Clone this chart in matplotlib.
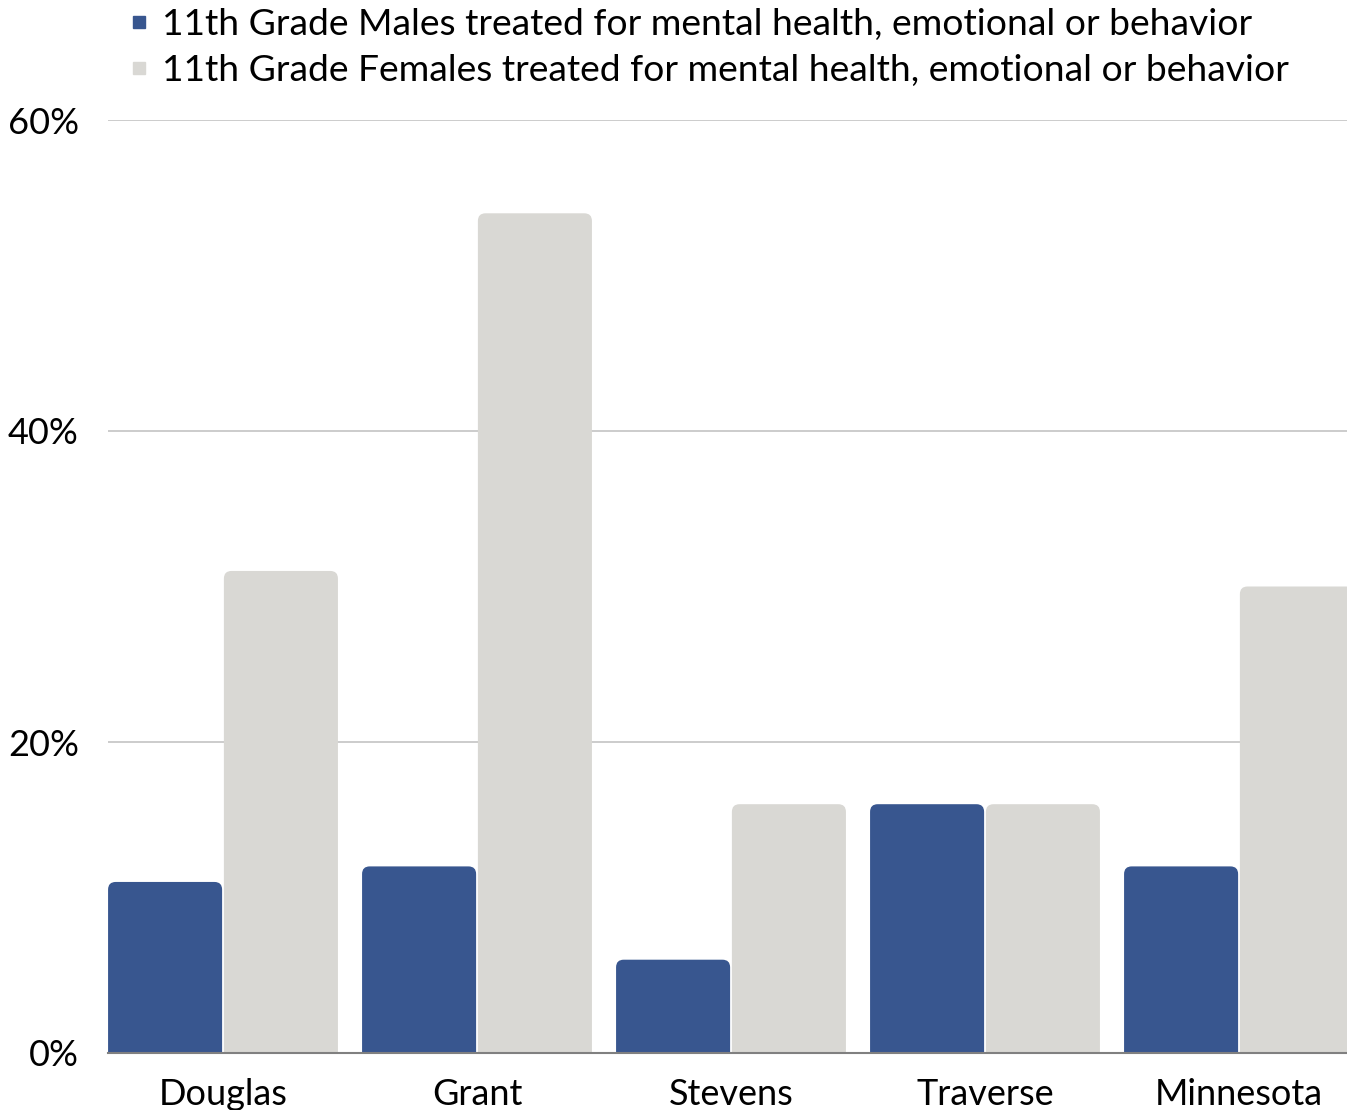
import matplotlib.pyplot as plt
from matplotlib.patches import FancyBboxPatch
from matplotlib.lines import Line2D
from matplotlib.ticker import FuncFormatter

# ---------------------------------------------------------
#   Datos
# ---------------------------------------------------------
condados = ["Douglas", "Grant", "Stevens", "Traverse", "Minnesota"]
hombres = [11, 12, 6, 16, 12]
mujeres = [31, 54, 16, 16, 30]

etiqueta_h = "11th Grade Males treated for mental health, emotional or behavior"
etiqueta_m = "11th Grade Females treated for mental health, emotional or behavior"

AZUL = "#38568F"
GRIS = "#D9D8D4"

plt.rcParams["font.family"] = ["Lato", "DejaVu Sans"]

fig = plt.figure(figsize=(13.47, 11.1), dpi=100)
ax = fig.add_axes([108 / 1347, 57 / 1110, 1 - 108 / 1347, (1053 - 120) / 1110])

ancho = 0.449
desp = 0.228
radio = 0.03  # en unidades de x


def barra(x, h, color):
    # barra con esquinas superiores redondeadas (la parte de abajo queda recortada)
    extra = 1.5
    p = FancyBboxPatch((x - ancho / 2, -extra), ancho, h + extra,
                       boxstyle=f"round,pad=0,rounding_size={radio}",
                       mutation_aspect=60 / 933 * 254,
                       facecolor=color, edgecolor="none", zorder=3)
    ax.add_patch(p)


for i in range(len(condados)):
    barra(i - desp, hombres[i], AZUL)
    barra(i + desp, mujeres[i], GRIS)

ax.set_xlim(-115 / 254, (1347 - 223) / 254)
ax.set_ylim(0, 60)
ax.set_yticks([0, 20, 40, 60])
ax.yaxis.set_major_formatter(FuncFormatter(lambda v, p: f"{v:.0f}%"))
ax.set_xticks(range(len(condados)))
ax.set_xticklabels(condados)

ax.tick_params(axis="both", length=0, labelsize=26)
ax.tick_params(axis="x", pad=18)
ax.tick_params(axis="y", pad=21)

ax.grid(axis="y", color="#C8C8C8", linewidth=1.3, zorder=0)
for s in ["top", "right", "left"]:
    ax.spines[s].set_visible(False)
ax.spines["bottom"].set_color("#808080")
ax.spines["bottom"].set_linewidth(1.5)
ax.spines["bottom"].set_zorder(4)

handles = [
    Line2D([], [], marker="s", linestyle="none", markersize=8.5,
           markerfacecolor=AZUL, markeredgecolor=AZUL),
    Line2D([], [], marker="s", linestyle="none", markersize=8.5,
           markerfacecolor=GRIS, markeredgecolor=GRIS),
]
fig.legend(handles, [etiqueta_h, etiqueta_m], loc="upper left",
           bbox_to_anchor=(128 / 1347, 0.993), frameon=False, fontsize=26.8,
           handlelength=0.6, handletextpad=0.32, labelspacing=0.36,
           borderpad=0, borderaxespad=0)

plt.savefig("out.png", dpi=100)
plt.close()
